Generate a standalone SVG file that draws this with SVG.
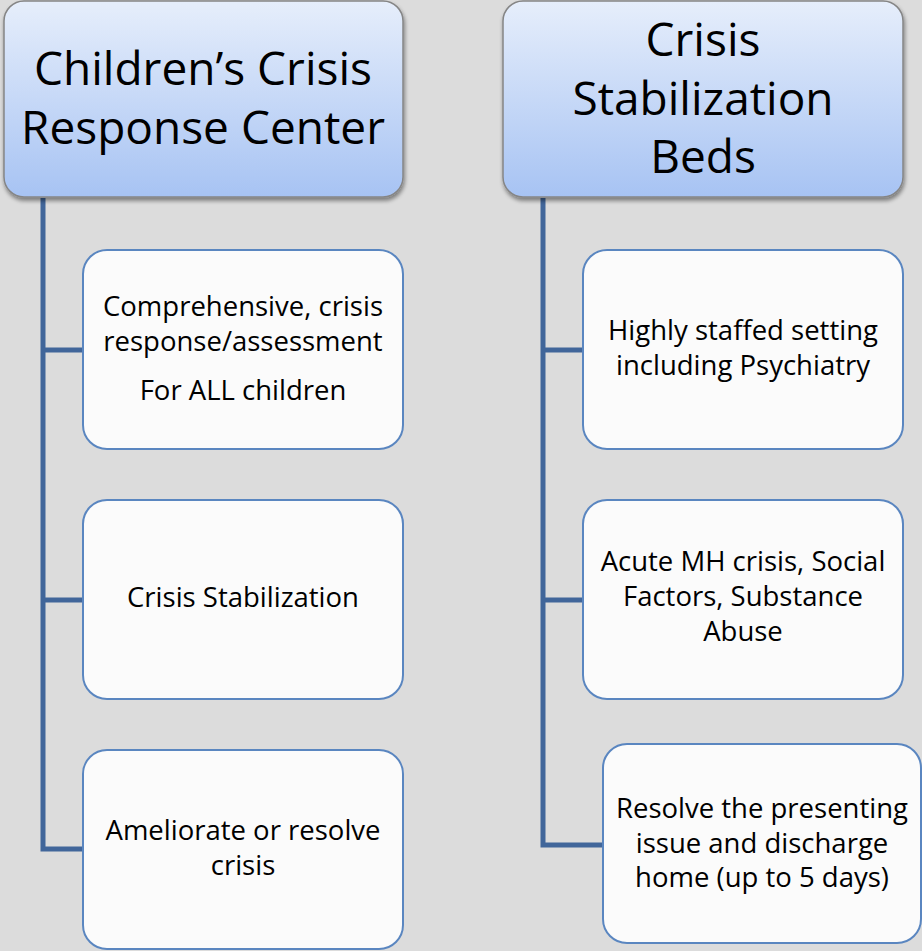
<svg xmlns="http://www.w3.org/2000/svg" width="922" height="951" viewBox="0 0 922 951">
<defs>
<linearGradient id="hg" x1="0" y1="0" x2="0" y2="1">
<stop offset="0" stop-color="#e6eefb"/>
<stop offset="1" stop-color="#a7c3f3"/>
</linearGradient>
<filter id="sh" x="-10%" y="-10%" width="120%" height="130%">
<feGaussianBlur in="SourceAlpha" stdDeviation="2"/>
<feOffset dx="1" dy="3" result="o"/>
<feComponentTransfer><feFuncA type="linear" slope="0.45"/></feComponentTransfer>
<feMerge><feMergeNode/><feMergeNode in="SourceGraphic"/></feMerge>
</filter>
</defs>
<style>
.hdr{fill:url(#hg);stroke:#858585;stroke-width:1.5;filter:url(#sh)}
.box{fill:#fbfbfb;stroke:#5a86c0;stroke-width:2}
.conn{fill:none;stroke:#41669a;stroke-width:5}
.ht{font-family:"Open Sans",Lato,sans-serif;font-size:46px;fill:#000;text-anchor:middle}
.bt{font-family:"Open Sans",Lato,sans-serif;font-size:27.5px;fill:#000;text-anchor:middle}
</style>
<rect width="922" height="951" fill="#dcdcdc"/>
<g id="connectors">
<path class="conn" d="M43 198 V849 H84 M43 350 H84 M43 600 H84"/>
<path class="conn" d="M543 198 V845 H604 M543 350 H584 M543 600 H584"/>
</g>
<g id="h1">
<rect class="hdr" x="4" y="1" width="399" height="196" rx="20"/>
<text class="ht" x="203" y="85">Children’s Crisis</text>
<text class="ht" x="203" y="144">Response Center</text>
</g>
<g id="h2">
<rect class="hdr" x="503" y="1" width="400" height="196" rx="20"/>
<text class="ht" x="703" y="56">Crisis</text>
<text class="ht" x="703" y="115">Stabilization</text>
<text class="ht" x="703" y="173">Beds</text>
</g>
<g id="l1">
<rect class="box" x="83" y="250" width="320" height="199" rx="24"/>
<text class="bt" x="243" y="316">Comprehensive, crisis</text>
<text class="bt" x="243" y="351">response/assessment</text>
<text class="bt" x="243" y="400">For ALL children</text>
</g>
<g id="l2">
<rect class="box" x="83" y="500" width="320" height="199" rx="24"/>
<text class="bt" x="243" y="607">Crisis Stabilization</text>
</g>
<g id="l3">
<rect class="box" x="83" y="750" width="320" height="199" rx="24"/>
<text class="bt" x="243" y="840">Ameliorate or resolve</text>
<text class="bt" x="243" y="875">crisis</text>
</g>
<g id="r1">
<rect class="box" x="583" y="250" width="320" height="199" rx="24"/>
<text class="bt" x="743" y="340">Highly staffed setting</text>
<text class="bt" x="743" y="375">including Psychiatry</text>
</g>
<g id="r2">
<rect class="box" x="583" y="500" width="320" height="199" rx="24"/>
<text class="bt" x="743" y="571">Acute MH crisis, Social</text>
<text class="bt" x="743" y="606">Factors, Substance</text>
<text class="bt" x="743" y="641">Abuse</text>
</g>
<g id="r3">
<rect class="box" x="603" y="744" width="318" height="199" rx="24"/>
<text class="bt" x="762" y="818">Resolve the presenting</text>
<text class="bt" x="762" y="853">issue and discharge</text>
<text class="bt" x="762" y="887">home (up to 5 days)</text>
</g>
</svg>
